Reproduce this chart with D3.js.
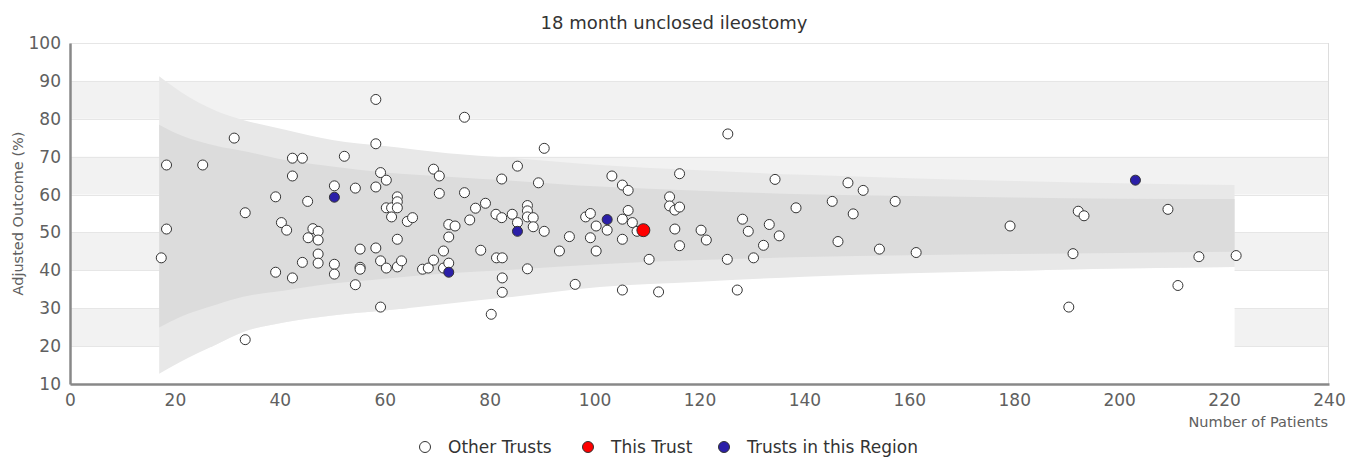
<!DOCTYPE html>
<html>
<head>
<meta charset="utf-8">
<title>18 month unclosed ileostomy</title>
<script src="https://cdn.jsdelivr.net/npm/d3@7/dist/d3.min.js"></script>
<style>
  body { margin: 0; background: #fff; font-family: "DejaVu Sans", sans-serif; }
  .tick text { fill: #606060; }
</style>
</head>
<body>
<script>
// funnel limits (patients, % outcome)
var funnelN  = [17, 21, 28, 33, 41, 50, 60, 72, 85, 101, 120, 140, 160, 180, 200, 222];
var outerHi  = [91.2, 87.2, 82.0, 79.7, 77.1, 74.4, 72.8, 70.9, 69.6, 67.8, 66.4, 65.2, 64.3, 63.6, 63.0, 62.5];
var innerHi  = [78.4, 75.7, 72.8, 71.5, 69.1, 67.4, 65.8, 64.7, 63.6, 62.1, 61.0, 60.1, 59.6, 59.2, 58.9, 58.8];
var innerLo  = [24.9, 27.7, 31.0, 33.0, 34.7, 36.5, 37.8, 39.2, 40.2, 41.6, 42.7, 43.5, 44.0, 44.3, 44.6, 44.9];
var outerLo  = [12.7, 15.8, 20.5, 23.7, 26.3, 28.1, 29.4, 31.2, 33.1, 35.6, 37.0, 38.3, 39.2, 39.9, 40.5, 40.9];

// trusts: [patients, adjusted outcome]
var otherTrusts = [
  [17.4,43.3],[18.4,67.8],[18.4,50.9],[25.3,67.8],
  [31.3,74.9],[33.4,55.2],[33.4,21.7],[39.2,59.4],[39.2,39.5],
  [40.3,52.6],[41.3,50.6],[42.4,69.6],[42.4,64.9],[42.4,38.0],[44.3,69.6],[44.3,42.1],[45.3,58.2],
  [45.4,48.6],[46.3,51.0],[47.3,50.3],[47.3,48.0],[47.3,44.3],[47.3,41.9],
  [50.4,62.3],[50.4,41.6],[50.4,39.0],[52.3,70.1],[54.4,61.7],[54.4,36.2],[55.3,45.6],[55.3,40.8],
  [55.3,40.3],[58.3,85.1],[58.3,73.4],[58.3,62.0],[58.3,45.9],[59.2,65.8],[59.2,42.5],[59.2,30.3],
  [60.3,63.8],[60.3,56.5],[60.3,40.6],[61.3,56.5],[61.3,54.1],[62.4,59.4],[62.4,58.1],[62.4,56.5],
  [62.4,48.2],[62.4,40.9],[63.2,42.5],[64.3,52.9],[65.3,53.9],[67.2,40.3],[68.3,40.6],[69.3,66.7],[69.3,42.7],
  [70.4,64.9],[70.4,60.3],[71.2,45.1],[71.2,40.6],[72.2,41.9],[72.2,48.8],[72.2,52.1],[73.4,51.7],
  [75.2,80.4],[75.2,60.5],[76.2,53.3],[77.3,56.4],[78.3,45.3],[79.2,57.7],
  [80.3,28.4],[81.2,54.8],[81.3,43.3],[82.3,64.1],[82.3,53.9],[82.4,43.3],[82.4,38.0],[82.4,34.2],
  [84.3,54.8],[85.3,67.5],[85.3,52.6],[87.2,57.1],[87.2,55.7],[87.2,54.1],[87.2,40.4],[88.3,53.9],
  [88.3,51.5],[89.3,63.1],
  [90.4,72.2],[90.4,50.3],[93.3,45.1],[95.2,48.9],[96.3,36.3],[98.3,54.1],[99.2,55.0],[99.2,48.6],
  [100.3,51.7],[100.3,45.1],[102.4,50.6],[103.3,64.9],[105.3,62.5],[105.3,53.5],[105.3,48.2],
  [105.3,34.8],[106.4,61.1],[106.4,55.8],[107.2,52.6],[108.1,50.3],
  [110.4,42.9],[112.2,34.3],[114.3,59.4],[114.3,57.0],[115.3,55.9],[115.3,50.9],[116.2,65.5],
  [116.2,56.7],[116.2,46.5],[120.3,50.6],[121.3,48.0],[125.4,76.0],[125.3,42.9],[127.2,34.8],
  [128.2,53.5],[129.3,50.3],[130.3,43.3],[132.2,46.6],[133.3,52.1],[134.4,64.0],[135.2,49.1],[138.4,56.5],
  [145.3,58.2],[146.4,47.6],[148.3,63.1],[149.3,54.9],[151.2,61.1],[154.3,45.6],[157.3,58.2],
  [161.3,44.7],[179.2,51.7],[190.4,30.3],[191.2,44.4],[192.2,55.6],[193.3,54.4],[209.3,56.1],
  [211.2,36.0],[215.2,43.6],[222.3,43.9]
];
var regionTrusts = [[50.4,59.3],[72.2,39.5],[85.3,50.3],[102.4,53.4],[203.1,63.8]];
var thisTrust = [[109.3,50.6]];

var xTicks = [0, 20, 40, 60, 80, 100, 120, 140, 160, 180, 200, 220, 240];
var yTicks = [10, 20, 30, 40, 50, 60, 70, 80, 90, 100];
var bandStarts = [20, 40, 60, 80];   // alternate grid bands (from, from+10)

var legendItems = [
  {label: "Other Trusts", fill: "#ffffff"},
  {label: "This Trust", fill: "#ff0000"},
  {label: "Trusts in this Region", fill: "#2b1fa8"}
];

var width = 1348, height = 457;
var margin = {top: 43, right: 19, bottom: 73, left: 70};

var svg = d3.select("body").append("svg").attr("width", width).attr("height", height);

var x = d3.scaleLinear().domain([0, 240]).range([margin.left, width - margin.right]);
var y = d3.scaleLinear().domain([10, 100]).range([height - margin.bottom, margin.top]);

// alternate bands
svg.append("g").selectAll("rect")
  .data(bandStarts)
  .enter().append("rect")
  .attr("x", x(0))
  .attr("width", x(240) - x(0))
  .attr("y", function(d) { return y(d + 10); })
  .attr("height", function(d) { return y(d) - y(d + 10); })
  .attr("fill", "#f2f2f2");

// gridlines
svg.append("g").selectAll("line")
  .data(yTicks)
  .enter().append("line")
  .attr("x1", x(0)).attr("x2", x(240))
  .attr("y1", function(d) { return Math.round(y(d)) + 0.5; })
  .attr("y2", function(d) { return Math.round(y(d)) + 0.5; })
  .attr("stroke", "#e6e6e6");

svg.append("line")
  .attr("x1", Math.round(x(240)) - 0.5).attr("x2", Math.round(x(240)) - 0.5)
  .attr("y1", y(100)).attr("y2", y(10))
  .attr("stroke", "#dddddd");

// funnel (stacked from the axis minimum, the lowest layer is white)
var idx = d3.range(funnelN.length);
var floor = idx.map(function() { return 10; });
function band(lo, hi) {
  return d3.area()
    .curve(d3.curveMonotoneX)
    .x(function(i) { return x(funnelN[i]); })
    .y0(function(i) { return y(lo[i]); })
    .y1(function(i) { return y(hi[i]); });
}
svg.append("path").datum(idx).attr("d", band(floor, outerLo)).attr("fill", "#ffffff");
svg.append("path").datum(idx).attr("d", band(outerLo, outerHi)).attr("fill", "#e8e8e8");
svg.append("path").datum(idx).attr("d", band(innerLo, innerHi)).attr("fill", "#dcdcdc");

// axes
var xAxis = d3.axisBottom(x).tickValues(xTicks).tickSize(0).tickPadding(10);
var gx = svg.append("g")
  .attr("transform", "translate(0," + y(10) + ")")
  .call(xAxis);
gx.select(".domain").attr("stroke", "#888").attr("stroke-width", 2.5);
gx.selectAll("text").attr("font-size", "17px").attr("font-family", "DejaVu Sans");

var yAxis = d3.axisLeft(y).tickValues(yTicks).tickSize(0).tickPadding(9);
var gy = svg.append("g")
  .attr("transform", "translate(" + x(0) + ",0)")
  .call(yAxis);
gy.select(".domain").attr("stroke", "#888").attr("stroke-width", 2.5);
gy.selectAll("text").attr("font-size", "17px").attr("font-family", "DejaVu Sans");

svg.append("text")
  .attr("x", x(240) - 1)
  .attr("y", 427)
  .attr("text-anchor", "end")
  .attr("font-size", "14.5px")
  .attr("fill", "#606060")
  .text("Number of Patients");

svg.append("text")
  .attr("transform", "translate(23," + ((y(10) + y(100)) / 2) + ") rotate(-90)")
  .attr("text-anchor", "middle")
  .attr("font-size", "14.5px")
  .attr("fill", "#606060")
  .text("Adjusted Outcome (%)");

svg.append("text")
  .attr("x", width / 2)
  .attr("y", 29)
  .attr("text-anchor", "middle")
  .attr("font-size", "18px")
  .attr("fill", "#333")
  .text("18 month unclosed ileostomy");

// points
function dots(data, fill, r) {
  svg.append("g").selectAll("circle")
    .data(data)
    .enter().append("circle")
    .attr("cx", function(d) { return x(d[0]); })
    .attr("cy", function(d) { return y(d[1]); })
    .attr("r", r)
    .attr("fill", fill)
    .attr("stroke", "#333")
    .attr("stroke-width", 1);
}
dots(otherTrusts, "#ffffff", 5);
dots(regionTrusts, "#2b1fa8", 5);
dots(thisTrust, "#ff0000", 6.5);

// legend
var legendX = [425, 588, 724];
var lg = svg.append("g").selectAll("g")
  .data(legendItems)
  .enter().append("g")
  .attr("transform", function(d, i) { return "translate(" + legendX[i] + ",447)"; });
lg.append("circle").attr("r", 5.5).attr("fill", function(d) { return d.fill; })
  .attr("stroke", "#333").attr("stroke-width", 1);
lg.append("text").attr("x", 23).attr("y", 6)
  .attr("font-size", "17px").attr("fill", "#333")
  .text(function(d) { return d.label; });
</script>
</body>
</html>
